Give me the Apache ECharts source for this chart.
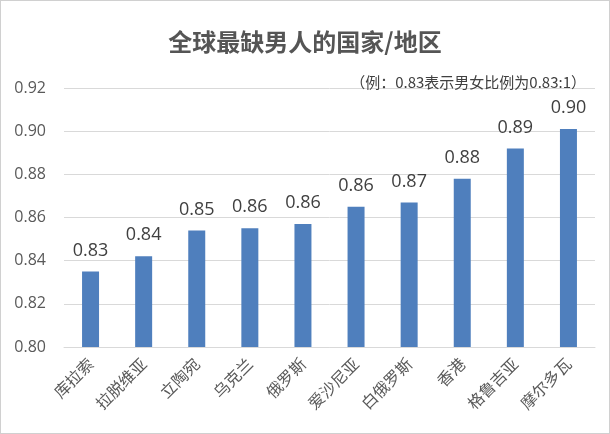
<!DOCTYPE html>
<html>
<head>
<meta charset="utf-8">
<script src="https://cdn.jsdelivr.net/npm/echarts@6/dist/echarts.min.js"></script>
<style>
  html, body { margin: 0; padding: 0; background: #fff; }
  #chart { width: 608px; height: 432px; border: 1px solid #d0d0d0; }
</style>
</head>
<body>
<div id="chart"></div>
<script>
// 数据
var countries = ['库拉索', '拉脱维亚', '立陶宛', '乌克兰', '俄罗斯', '爱沙尼亚', '白俄罗斯', '香港', '格鲁吉亚', '摩尔多瓦'];
var ratios = [0.835, 0.842, 0.854, 0.855, 0.857, 0.865, 0.867, 0.878, 0.892, 0.901];
var ratioLabels = ['0.83', '0.84', '0.85', '0.86', '0.86', '0.86', '0.87', '0.88', '0.89', '0.90'];
var yTicks = ['0.80', '0.82', '0.84', '0.86', '0.88', '0.90', '0.92'];

var font = '"Microsoft YaHei", "Noto Sans CJK SC", "Open Sans", sans-serif';
var chart = echarts.init(document.getElementById('chart'));

chart.setOption({
    animation: false,
    title: [{
        text: '全球最缺男人的国家/地区',
        left: 'center',
        top: 24,
        textStyle: { fontSize: 24, fontWeight: 'bold', color: '#555555', fontFamily: font }
    }, {
        text: '（例：0.83表示男女比例为0.83:1）',
        right: 18,
        top: 69,
        textStyle: { fontSize: 15, fontWeight: 'normal', color: '#404040', fontFamily: font }
    }],
    grid: { left: 63, right: 14, top: 87, bottom: 86, containLabel: false },
    xAxis: {
        type: 'category',
        data: countries,
        axisLine: { lineStyle: { color: '#d9d9d9' } },
        axisTick: { show: false },
        axisLabel: {
            rotate: 45,
            margin: 14,
            fontSize: 16,
            color: '#595959',
            fontFamily: font
        }
    },
    yAxis: {
        type: 'value',
        min: 0.80,
        max: 0.92,
        interval: 0.02,
        axisLine: { show: false },
        axisTick: { show: false },
        splitLine: { lineStyle: { color: '#d9d9d9' } },
        axisLabel: {
            margin: 18,
            fontSize: 16,
            color: '#595959',
            fontFamily: '"Open Sans", sans-serif',
            formatter: function (v) {
                return yTicks[Math.round((v - 0.80) / 0.02)];
            }
        }
    },
    series: [{
        type: 'bar',
        data: ratios,
        barWidth: '32%',
        itemStyle: { color: '#4f7fbd' },
        label: {
            show: true,
            position: 'top',
            distance: 12,
            fontSize: 18,
            color: '#404040',
            fontFamily: '"Open Sans", sans-serif',
            formatter: function (p) { return ratioLabels[p.dataIndex]; }
        }
    }]
});
</script>
</body>
</html>
